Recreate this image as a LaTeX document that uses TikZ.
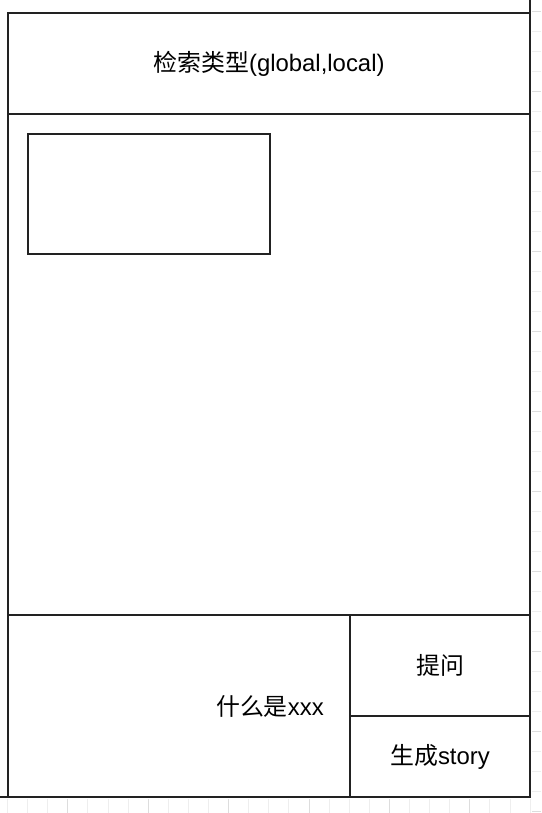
\documentclass[tikz,border=0pt]{standalone}
\usepackage{fontspec}
\setmainfont{Liberation Sans}
\newfontfamily\cjk{Noto Sans CJK SC}
\usetikzlibrary{positioning,calc}
\definecolor{frameline}{HTML}{222222}
\definecolor{gridminor}{HTML}{EEEEEE}
\definecolor{gridmajor}{HTML}{DDDDDD}
\tikzset{
  panel/.style={draw=frameline, line width=1.3pt, anchor=north west,
    inner sep=0pt, outer sep=0pt, font=\fontsize{17}{20}\selectfont},
  edge/.style={draw=frameline, line width=1.3pt},
  txt/.style={inner sep=0pt, font=\fontsize{17}{20}\selectfont},
  minorgrid/.style={draw=gridminor, line width=0.6pt},
  majorgrid/.style={draw=gridmajor, line width=0.6pt}
}

\begin{document}
\begin{tikzpicture}[x=0.25mm,y=-0.25mm]
        \useasboundingbox (0,0) rectangle (541,813);
        % canvas grid outside the frame
        \foreach \i in {0,...,40} {
          \pgfmathsetmacro{\gy}{11+20*\i}
          \pgfmathtruncatemacro{\gm}{mod(\i,4)}
          \ifnum\gm=0 \draw[majorgrid] (532,\gy) -- (541,\gy);
          \else \draw[minorgrid] (532,\gy) -- (541,\gy); \fi
        }
        \foreach \i in {0,...,26} {
          \pgfmathsetmacro{\gx}{7.5+20.1*\i}
          \pgfmathtruncatemacro{\gm}{mod(\i+1,4)}
          \ifnum\gm=0 \draw[majorgrid] (\gx,799) -- (\gx,813);
          \else \draw[minorgrid] (\gx,799) -- (\gx,813); \fi
        }
        % page panels
        \node[panel, minimum width=130.5mm, minimum height=25.25mm] (header) at (8,13)
          {{\cjk 检索类型}(global,local)};
        \node[panel, minimum width=130.5mm, minimum height=125.25mm] (body) at (header.south west) {};
        \node[panel, minimum width=60.5mm, minimum height=30mm] (card) at (28,134) {};
        \node[panel, minimum width=85.5mm, minimum height=45.5mm] (query) at (body.south west) {};
        \node[panel, minimum width=45mm, minimum height=25.25mm] (ask) at (query.north east)
          {\cjk 提问};
        \node[panel, minimum width=45mm, minimum height=20.25mm] (story) at (ask.south west)
          {{\cjk 生成}story};
        \node[txt, anchor=east] (querytext) at ([xshift=-6.5mm]query.east)
          {{\cjk 什么是}xxx};
        % frame stubs
        \coordinate (topend) at (530,0);
        \coordinate (leftend) at (0,797);
        \draw[edge] (header.north east) -- (topend);
        \draw[edge] (query.south west) -- (leftend);
      \end{tikzpicture}
\end{document}
